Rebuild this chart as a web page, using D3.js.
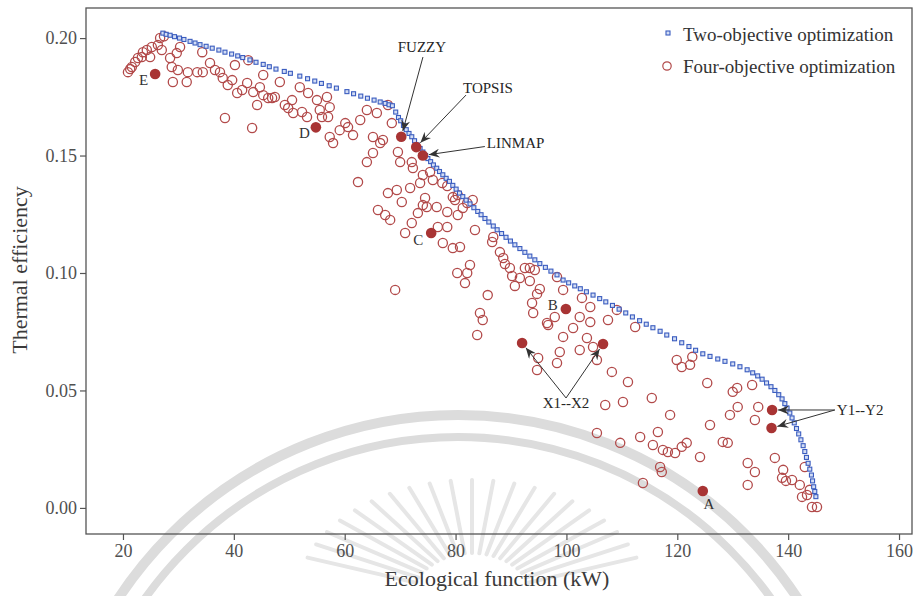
<!DOCTYPE html>
<html>
<head>
<meta charset="utf-8">
<script src="https://cdn.jsdelivr.net/npm/d3@7"></script>
<style>
  html, body { margin: 0; padding: 0; background: #fff; }
  svg { display: block; }
</style>
</head>
<body>
<svg id="chart" width="914" height="596"></svg>
<script>
// ---- data -------------------------------------------------------------
const xTicks = [20, 40, 60, 80, 100, 120, 140, 160];
const yTicks = [0.00, 0.05, 0.10, 0.15, 0.20];
const xTitle = "Ecological function (kW)";
const yTitle = "Thermal efficiency";
const seriesNames = ["Two-objective optimization", "Four-objective optimization"];

// Pareto front, two objectives: [ecological function (kW), thermal efficiency]
const twoObjective = [
  [27.2,.2021],[27.8,.2016],[28.5,.2012],[29.3,.2006],[30.2,.2000],[31.0,.1994],[32.1,.1986],[33.0,.1979],
  [33.9,.1972],[35.0,.1965],[36.1,.1957],[37.3,.1949],[38.4,.1940],[39.6,.1932],[40.7,.1924],[41.6,.1917],
  [42.9,.1907],[44.0,.1897],[45.3,.1888],[46.4,.1878],[47.6,.1868],[49.1,.1858],[50.2,.1850],[51.9,.1838],
  [53.3,.1827],[54.6,.1817],[55.8,.1807],[57.2,.1797],[58.5,.1787],[60.4,.1772],[61.6,.1763],[62.9,.1753],
  [64.1,.1744],[65.3,.1736],[66.4,.1728],[67.3,.1722],[68.0,.1716],[68.6,.1712],
  [69.2,.1685],[69.7,.1662],[70.1,.1648],[70.6,.1628],[71.1,.1610],[71.6,.1594],[72.1,.1580],[72.6,.1563],
  [73.1,.1545],[73.6,.1530],[74.1,.1515],[74.6,.1500],[75.0,.1487],[75.5,.1474],[76.0,.1460],[76.6,.1446],
  [77.1,.1432],[77.7,.1418],[78.3,.1403],[78.9,.1390],[79.5,.1373],[80.1,.1357],[80.7,.1340],[81.3,.1325],
  [81.9,.1310],[82.6,.1294],[83.3,.1278],[84.0,.1262],[84.6,.1248],[85.3,.1232],[86.0,.1217],[86.8,.1200],
  [87.5,.1184],[88.3,.1168],[89.1,.1152],[89.9,.1136],[90.7,.1120],[91.6,.1104],[92.5,.1088],[93.4,.1072],
  [94.3,.1056],[95.2,.1040],[96.2,.1024],[97.2,.1008],[98.3,.0992],[99.4,.0970],[100.4,.0958],[101.5,.0945],
  [102.5,.0933],[103.6,.0920],[104.8,.0906],[106.0,.0891],[107.1,.0877],[108.3,.0862],[109.5,.0846],[110.7,.0830],
  [111.9,.0813],[113.2,.0797],[114.4,.0782],[115.6,.0767],[116.9,.0752],[118.1,.0736],[119.5,.0720],[120.8,.0703],
  [122.1,.0687],[123.3,.0671],[124.6,.0656],[125.9,.0645],[127.3,.0634],[128.6,.0624],[130.0,.0613],[131.3,.0601],
  [132.6,.0588],[133.6,.0575],[134.5,.0562],[135.3,.0548],[136.1,.0532],[136.9,.0516],[137.6,.0500],[138.3,.0482],
  [138.9,.0464],[139.4,.0444],[139.8,.0425],[140.3,.0404],[140.7,.0383],[141.1,.0362],[141.5,.0338],[141.9,.0315],
  [142.3,.0290],[142.7,.0265],[143.0,.0240],[143.3,.0215],[143.6,.0190],[143.9,.0165],[144.2,.0140],[144.4,.0115],
  [144.6,.0090],[144.8,.0070],[145.0,.0048]
];

// Pareto solutions, four objectives (projected onto the same two axes)
const fourObjective = [
  [20.9,.1855],[21.3,.1868],[21.6,.1877],[22.2,.1898],[22.7,.1915],[23.4,.1919],[23.6,.1940],[24.9,.1919],
  [24.3,.1949],[25.2,.1962],[26.3,.1970],[27.0,.1949],[26.7,.2000],[27.4,.2008],[28.5,.1915],[28.8,.1877],
  [29.7,.1936],[29.9,.1864],[30.3,.1962],[29.0,.1813],[31.5,.1813],[31.7,.1855],[33.4,.1855],[34.3,.1940],
  [34.4,.1855],[35.7,.1894],[36.6,.1864],[37.5,.1855],[38.0,.1830],[38.9,.1800],[39.7,.1821],[40.2,.1885],
  [40.6,.1766],[41.5,.1779],[42.4,.1809],[42.6,.1906],[43.5,.1770],[44.2,.1715],[44.7,.1791],[45.3,.1843],
  [45.3,.1757],[46.2,.1745],[46.9,.1745],[47.4,.1749],[48.3,.1813],[49.2,.1715],[49.8,.1702],[50.5,.1736],
  [50.7,.1681],[51.9,.1791],[52.3,.1685],[53.2,.1664],[53.4,.1766],[55.0,.1736],[55.5,.1694],[55.9,.1664],
  [56.8,.1749],[57.0,.1664],[57.3,.1706],[57.3,.1579],[57.9,.1553],[59.1,.1608],[60.1,.1638],[60.6,.1621],
  [61.5,.1587],[62.8,.1651],[64.0,.1694],[65.1,.1579],[65.8,.1681],[66.4,.1553],[66.9,.1566],[67.8,.1715],
  [38.4,.1660],[43.3,.1617],[65.1,.1511],[68.5,.1638],[69.6,.1515],[70.0,.1472],[72.1,.1472],[72.3,.1447],
  [62.4,.1387],[64.0,.1472],[67.8,.1340],[69.4,.1353],[71.8,.1362],[73.6,.1383],[74.1,.1417],[75.4,.1430],
  [75.9,.1396],[77.6,.1383],[78.5,.1370],[79.5,.1323],[80.4,.1332],[70.3,.1302],[66.0,.1268],[67.3,.1247],
  [68.2,.1226],[74.5,.1319],[74.1,.1289],[74.8,.1281],[73.2,.1255],[72.1,.1213],[70.9,.1170],[76.6,.1281],
  [76.8,.1196],[78.5,.1196],[77.7,.1128],[79.9,.1311],[80.4,.1247],[81.3,.1277],[82.1,.1298],[83.1,.1311],
  [83.5,.1183],[79.5,.1106],[80.8,.1111],[80.3,.1000],[82.1,.1000],[82.6,.1034],[81.7,.0957],[69.1,.0928],
  [85.8,.0906],[86.8,.1153],[86.6,.1132],[88.0,.1089],[88.6,.1064],[88.9,.1038],[89.8,.1021],[90.2,.0987],
  [90.7,.0945],[91.6,.0979],[92.5,.1021],[93.4,.1021],[94.3,.1013],[93.4,.0966],[95.2,.0932],[94.7,.0911],
  [93.8,.0872],[94.0,.0830],[98.3,.0983],[99.4,.0928],[102.8,.0894],[104.3,.0855],[107.5,.0800],[109.1,.0843],
  [102.4,.0813],[104.3,.0791],[97.9,.0813],[96.7,.0779],[101.2,.0766],[99.4,.0728],[103.7,.0723],[104.8,.0685],
  [102.4,.0672],[98.8,.0664],[94.9,.0638],[98.3,.0617],[94.7,.0587],[105.5,.0630],[108.2,.0579],[111.1,.0536],
  [110.2,.0451],[107.0,.0438],[115.4,.0468],[118.7,.0396],[119.9,.0630],[112.4,.0770],[120.8,.0600],[122.3,.0609],
  [122.7,.0643],[125.4,.0532],[130.0,.0494],[130.8,.0511],[133.5,.0523],[84.4,.0830],[84.9,.0800],[83.9,.0736],
  [96.5,.0787],[105.5,.0319],[109.7,.0277],[113.3,.0302],[116.5,.0323],[115.6,.0268],[117.4,.0247],[118.3,.0238],
  [119.6,.0234],[120.8,.0260],[121.7,.0277],[116.9,.0174],[117.2,.0153],[113.8,.0106],[124.1,.0217],[125.9,.0353],
  [128.2,.0281],[129.1,.0277],[129.5,.0396],[130.9,.0430],[134.0,.0374],[134.6,.0430],[132.7,.0191],[134.0,.0153],
  [132.7,.0098],[137.6,.0213],[139.1,.0162],[138.9,.0128],[139.6,.0115],[140.7,.0119],[142.1,.0098],[142.5,.0047],
  [143.4,.0055],[143.0,.0174],[143.9,.0077],[144.3,.0004],[145.2,.0004],[78.5,.1260]
];

// Selected solutions (decision-making results and typical points)
const keyPoints = [
  { name: "E",      x: 25.8,  y: 0.1847 },
  { name: "D",      x: 54.8,  y: 0.1620 },
  { name: "C",      x: 75.6,  y: 0.1170 },
  { name: "B",      x: 99.9,  y: 0.0847 },
  { name: "A",      x: 124.6, y: 0.0072 },
  { name: "X1",     x: 92.0,  y: 0.0702 },
  { name: "X2",     x: 106.6, y: 0.0698 },
  { name: "Y1",     x: 137.1, y: 0.0417 },
  { name: "Y2",     x: 137.0, y: 0.0340 },
  { name: "FUZZY",  x: 70.2,  y: 0.1580 },
  { name: "TOPSIS", x: 72.9,  y: 0.1536 },
  { name: "LINMAP", x: 74.1,  y: 0.1500 }
];
const letterLabels = ["E", "D", "C", "B", "A"];
const callouts = [
  { text: "FUZZY",  targets: ["FUZZY"] },
  { text: "TOPSIS", targets: ["TOPSIS"] },
  { text: "LINMAP", targets: ["LINMAP"] },
  { text: "X1--X2", targets: ["X1", "X2"] },
  { text: "Y1--Y2", targets: ["Y1", "Y2"] }
];

// ---- layout -----------------------------------------------------------
const svg = d3.select("#chart");
const plot = { left: 86, right: 912, top: 8, bottom: 534 };
const serif = "'Liberation Serif', 'Times New Roman', 'DejaVu Serif', serif";
const redStroke = "#b24a4a", redFill = "#a83434";
const blueStroke = "#3a5cbf", blueFill = "#d3ddf4";

const x = d3.scaleLinear().domain([13.33, 162.34]).range([plot.left, plot.right]);
const y = d3.scaleLinear().domain([-0.0111, 0.2128]).range([plot.bottom, plot.top]);

// faint emblem in the background
const wm = svg.append("g").attr("fill", "none").attr("stroke", "#dcdcdc");
wm.append("circle").attr("cx", 458).attr("cy", 821).attr("r", 406).attr("stroke-width", 10);
wm.append("circle").attr("cx", 458).attr("cy", 821).attr("r", 384).attr("stroke-width", 8);
const rayAngles = d3.range(-160, -19, 7);
wm.selectAll("line.ray").data(rayAngles).join("line")
  .attr("class", "ray")
  .attr("stroke", "#e6e6e6")
  .attr("stroke-width", 4)
  .attr("stroke-linecap", "round")
  .attr("x1", a => 472 + 60 * Math.cos(a * Math.PI / 180))
  .attr("y1", a => 598 + 45 * Math.sin(a * Math.PI / 180))
  .attr("x2", a => 472 + 175 * Math.cos(a * Math.PI / 180))
  .attr("y2", a => 598 + 118 * Math.sin(a * Math.PI / 180));

// frame
svg.append("rect")
  .attr("x", plot.left).attr("y", plot.top)
  .attr("width", plot.right - plot.left).attr("height", plot.bottom - plot.top)
  .attr("fill", "none").attr("stroke", "#555").attr("stroke-width", 1.3);

// axes
const xAxis = svg.append("g")
  .attr("transform", `translate(0,${plot.bottom})`)
  .call(d3.axisBottom(x).tickValues(xTicks).tickSize(6).tickPadding(4).tickFormat(d3.format("d")));
const yAxis = svg.append("g")
  .attr("transform", `translate(${plot.left},0)`)
  .call(d3.axisLeft(y).tickValues(yTicks).tickSize(6).tickPadding(3).tickFormat(d3.format(".2f")));
[xAxis, yAxis].forEach(g => {
  g.select(".domain").remove();
  g.selectAll(".tick line").attr("stroke", "#555").attr("stroke-width", 1.2);
  g.selectAll(".tick text").attr("fill", "#505050")
    .style("font-family", serif).style("font-size", "18px");
});

// axis titles
svg.append("text")
  .attr("x", 497).attr("y", 586)
  .attr("text-anchor", "middle")
  .style("font-family", serif).style("font-size", "22px").attr("fill", "#3a3a3a")
  .text(xTitle);
svg.append("text")
  .attr("transform", "translate(27,270) rotate(-90)")
  .attr("text-anchor", "middle")
  .style("font-family", serif).style("font-size", "22px").attr("fill", "#3a3a3a")
  .text(yTitle);

// four-objective solutions: open circles
svg.append("g").selectAll("circle").data(fourObjective).join("circle")
  .attr("cx", d => x(d[0])).attr("cy", d => y(d[1])).attr("r", 4.6)
  .attr("fill", "none").attr("stroke", redStroke).attr("stroke-width", 1.3);

// two-objective front: small squares
const sq = 4;
svg.append("g").selectAll("rect").data(twoObjective).join("rect")
  .attr("x", d => x(d[0]) - sq / 2).attr("y", d => y(d[1]) - sq / 2)
  .attr("width", sq).attr("height", sq)
  .attr("fill", blueFill).attr("stroke", blueStroke).attr("stroke-width", 1.1);

// highlighted solutions
const kp = new Map(keyPoints.map(d => [d.name, d]));
svg.append("g").selectAll("circle").data(keyPoints).join("circle")
  .attr("cx", d => x(d.x)).attr("cy", d => y(d.y)).attr("r", 5.3)
  .attr("fill", redFill);

// letter labels next to the points
const letterPlacement = {
  E: { dx: -7, dy: 11, anchor: "end" },
  D: { dx: -6, dy: 11, anchor: "end" },
  C: { dx: -8, dy: 12, anchor: "end" },
  B: { dx: -8, dy: 1,  anchor: "end" },
  A: { dx: 6,  dy: 18, anchor: "middle" }
};
svg.append("g").selectAll("text").data(letterLabels).join("text")
  .attr("x", n => x(kp.get(n).x) + letterPlacement[n].dx)
  .attr("y", n => y(kp.get(n).y) + letterPlacement[n].dy)
  .attr("text-anchor", n => letterPlacement[n].anchor)
  .style("font-family", serif).style("font-size", "15px").attr("fill", "#333")
  .text(n => n);

// callouts with arrows
const defs = svg.append("defs");
defs.append("marker")
  .attr("id", "arrowhead").attr("viewBox", "0 0 12 10")
  .attr("refX", 12).attr("refY", 5)
  .attr("markerWidth", 11).attr("markerHeight", 9)
  .attr("markerUnits", "userSpaceOnUse").attr("orient", "auto")
  .append("path").attr("d", "M0,0 L12,5 L0,10 L4,5 Z").attr("fill", "#333");

const calloutPlacement = {
  "FUZZY":  { dx: 20.7, dy: -84.7, anchor: "middle", ax: 21.7, ay: -79.7 },
  "TOPSIS": { dx: 46.8, dy: -54,   anchor: "start",  ax: 49.8, ay: -52 },
  "LINMAP": { dx: 64,   dy: -7.5,  anchor: "start",  ax: 62,   ay: -9 },
  "X1--X2": { dx: 3.5,  dy: 64.5,  anchor: "middle", ax: 3.5,  ay: 54.5 },
  "Y1--Y2": { dx: 65,   dy: -4,    anchor: "start",  ax: 63,   ay: -9 }
};
const cg = svg.append("g");
callouts.forEach(c => {
  const pts = c.targets.map(n => [x(kp.get(n).x), y(kp.get(n).y)]);
  const cx = d3.mean(pts, p => p[0]), cy = d3.mean(pts, p => p[1]);
  const pl = calloutPlacement[c.text];
  const sx = cx + pl.ax, sy = cy + pl.ay;
  pts.forEach(p => {
    const vx = p[0] - sx, vy = p[1] - sy, len = Math.hypot(vx, vy);
    const ex = p[0] - vx / len * 6, ey = p[1] - vy / len * 6;
    cg.append("line")
      .attr("x1", sx).attr("y1", sy).attr("x2", ex).attr("y2", ey)
      .attr("stroke", "#333").attr("stroke-width", 1)
      .attr("marker-end", "url(#arrowhead)");
  });
  cg.append("text")
    .attr("x", cx + pl.dx).attr("y", cy + pl.dy)
    .attr("text-anchor", pl.anchor)
    .style("font-family", serif).style("font-size", "15px").attr("fill", "#262626")
    .text(c.text);
});

// legend
const legend = svg.append("g");
legend.append("rect").attr("x", 666).attr("y", 31).attr("width", 4).attr("height", 4)
  .attr("fill", blueFill).attr("stroke", blueStroke).attr("stroke-width", 1.1);
legend.append("circle").attr("cx", 667).attr("cy", 66).attr("r", 4.2)
  .attr("fill", "none").attr("stroke", redStroke).attr("stroke-width", 1.2);
legend.selectAll("text").data(seriesNames).join("text")
  .attr("x", 683).attr("y", (d, i) => 41 + i * 32)
  .style("font-family", serif).style("font-size", "19px").attr("fill", "#333")
  .text(d => d);
</script>
</body>
</html>
